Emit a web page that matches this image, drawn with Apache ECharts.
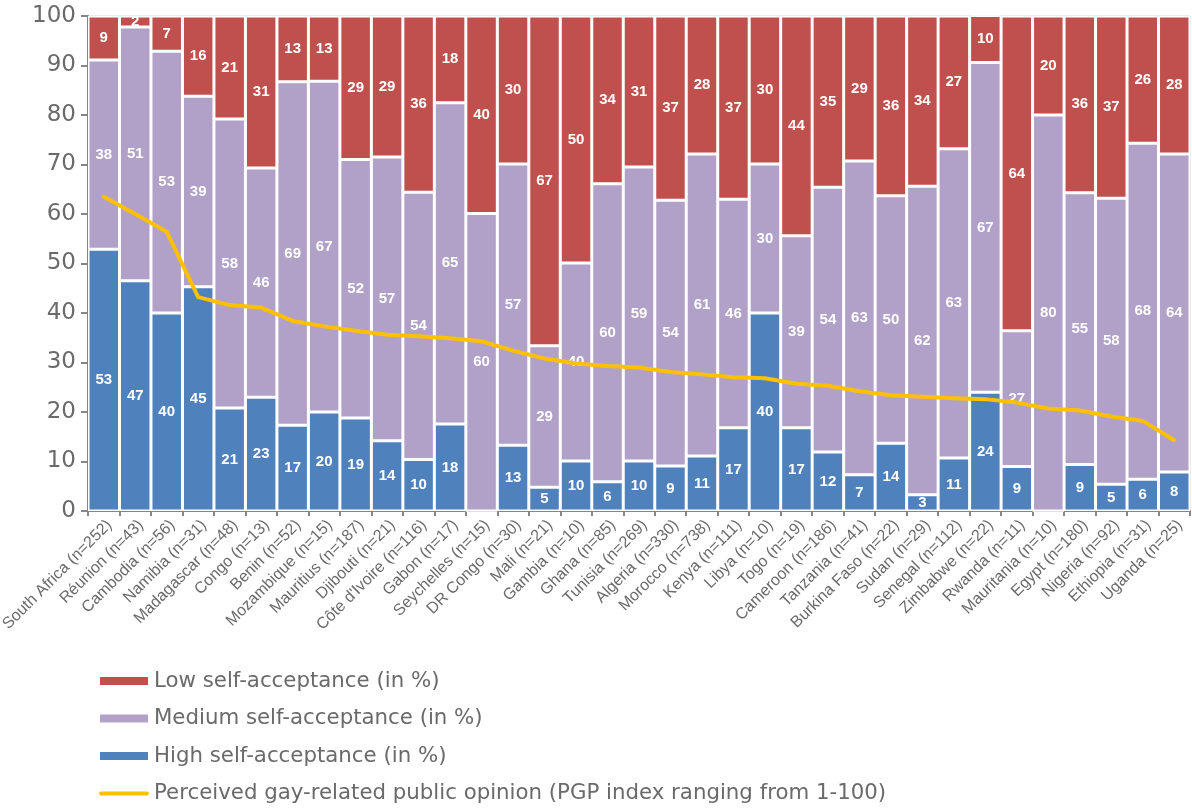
<!DOCTYPE html>
<html>
<head>
<meta charset="utf-8">
<script src="https://cdn.jsdelivr.net/npm/echarts@6/dist/echarts.min.js"></script>
<style>
  html, body { margin: 0; padding: 0; background: #fff; }
  #chart { width: 1192px; height: 811px; }
</style>
</head>
<body>
<div id="chart"></div>
<script>
// 国家 / 样本量
const countries = ['South Africa (n=252)', 'Réunion (n=43)', 'Cambodia (n=56)', 'Namibia (n=31)', 'Madagascar (n=48)',
  'Congo (n=13)', 'Benin (n=52)', 'Mozambique (n=15)', 'Mauritius (n=187)', 'Djibouti (n=21)',
  "Côte d'Ivoire (n=116)", 'Gabon (n=17)', 'Seychelles (n=15)', 'DR Congo (n=30)', 'Mali (n=21)',
  'Gambia (n=10)', 'Ghana (n=85)', 'Tunisia (n=269)', 'Algeria (n=330)', 'Morocco (n=738)',
  'Kenya (n=111)', 'Libya (n=10)', 'Togo (n=19)', 'Cameroon (n=186)', 'Tanzania (n=41)',
  'Burkina Faso (n=22)', 'Sudan (n=29)', 'Senegal (n=112)', 'Zimbabwe (n=22)', 'Rwanda (n=11)',
  'Mauritania (n=10)', 'Egypt (n=180)', 'Nigeria (n=92)', 'Ethiopia (n=31)', 'Uganda (n=25)']

const highValues = [52.9, 46.5, 40.0, 45.3, 20.8, 23.0, 17.3, 20.0, 18.8, 14.2,
  10.4, 17.6, 0, 13.3, 4.8, 10.1, 5.9, 10.1, 9.1, 11.1,
  16.8, 40.0, 16.8, 11.9, 7.3, 13.7, 3.3, 10.7, 24.0, 9.0,
  0, 9.4, 5.4, 6.4, 7.9]
const mediumValues = [38.2, 51.3, 52.9, 38.5, 58.4, 46.3, 69.4, 66.8, 52.2, 57.3,
  54.0, 64.9, 60.1, 56.8, 28.6, 40.0, 60.2, 59.4, 53.7, 61.0,
  46.2, 30.1, 38.8, 53.5, 63.4, 50.0, 62.3, 62.5, 66.6, 27.4,
  80.0, 54.9, 57.8, 67.9, 64.2]
const lowValues = [8.9, 2.2, 7.1, 16.2, 20.8, 30.7, 13.3, 13.2, 29.0, 28.5,
  35.6, 17.5, 39.9, 29.9, 66.6, 49.9, 33.9, 30.5, 37.2, 27.9,
  37.0, 29.9, 44.4, 34.6, 29.3, 36.3, 34.4, 26.8, 9.5, 63.6,
  20.0, 35.7, 36.8, 25.7, 27.9]
const pgpValues = [63.5, 60.0, 56.4, 43.2, 41.6, 41.1, 38.4, 37.3, 36.4, 35.6,
  35.3, 34.9, 34.3, 32.4, 30.8, 29.8, 29.3, 29.0, 28.1, 27.6,
  27.0, 26.8, 25.7, 25.3, 24.2, 23.4, 23.1, 22.8, 22.6, 21.9,
  20.7, 20.3, 19.1, 18.2, 14.3]

const FONT = "'Liberation Sans', Arial, sans-serif"
const WIDE_FONT = "'DejaVu Sans', sans-serif"
const GREY = '#6a6a6a'
const AXIS_GREY = '#868686'

let myChart = echarts.init(document.getElementById('chart'))

// 柱子内部的白色数值标签
const barLabel = {
  show: true,
  position: 'inside',
  color: '#fff',
  fontSize: 15,
  fontWeight: 'bold',
  fontFamily: FONT,
  formatter: (p) => p.value > 0 ? Math.round(p.value) : ''
}

const barSeries = (name, data, color) => ({
  name: name,
  type: 'bar',
  stack: 'total',
  barCategoryGap: '0%',
  itemStyle: { color: color, borderColor: '#fff', borderWidth: 1.5 },
  label: barLabel,
  emphasis: { disabled: true },
  data: data
})

let option = {
  animation: false,
  textStyle: { fontFamily: FONT },
  grid: {
    left: 88,
    right: 2,
    top: 16,
    bottom: 300,
    outerBoundsMode: 'none',
    containLabel: false,
    show: true,
    borderColor: '#d9d9d9',
    borderWidth: 1
  },
  legend: {
    orient: 'vertical',
    left: 98,
    top: 669,
    padding: 0,
    itemWidth: 50,
    itemHeight: 10,
    itemGap: 13.5,
    textStyle: { color: GREY, fontSize: 21.3, fontFamily: WIDE_FONT, lineHeight: 24 },
    data: [
      { name: 'Low self-acceptance (in %)', icon: 'rect' },
      { name: 'Medium self-acceptance (in %)', icon: 'rect' },
      { name: 'High self-acceptance (in %)', icon: 'rect' },
      {
        name: 'Perceived gay-related public opinion (PGP index ranging from 1-100)',
        icon: 'path://M2,0 L48,0 A2,2 0 0 1 48,4 L2,4 A2,2 0 0 1 2,0 Z'
      }
    ]
  },
  xAxis: {
    type: 'category',
    data: countries,
    axisLine: { lineStyle: { color: AXIS_GREY, width: 2 } },
    axisTick: { show: true, length: 5, lineStyle: { color: AXIS_GREY, width: 2 } },
    axisLabel: {
      interval: 0,
      rotate: 45,
      color: GREY,
      fontSize: 16,
      fontFamily: FONT,
      verticalAlign: 'top',
      margin: 6
    },
    splitLine: { show: false }
  },
  yAxis: {
    type: 'value',
    min: 0,
    max: 100,
    interval: 10,
    splitLine: { show: false },
    axisLine: { show: true, lineStyle: { color: AXIS_GREY, width: 2 } },
    axisTick: { show: true, length: 7, lineStyle: { color: AXIS_GREY, width: 2 } },
    axisLabel: { color: GREY, fontSize: 23, fontFamily: WIDE_FONT, margin: 12 }
  },
  series: [
    barSeries('High self-acceptance (in %)', highValues, '#4F81BD'),
    barSeries('Medium self-acceptance (in %)', mediumValues, '#B1A0C7'),
    barSeries('Low self-acceptance (in %)', lowValues, '#C0504D'),
    {
      name: 'Perceived gay-related public opinion (PGP index ranging from 1-100)',
      type: 'line',
      symbol: 'none',
      z: 5,
      lineStyle: { color: '#FFC000', width: 4, cap: 'round', join: 'round' },
      itemStyle: { color: '#FFC000' },
      emphasis: { disabled: true },
      data: pgpValues
    }
  ]
}

myChart.setOption(option)
</script>
</body>
</html>
